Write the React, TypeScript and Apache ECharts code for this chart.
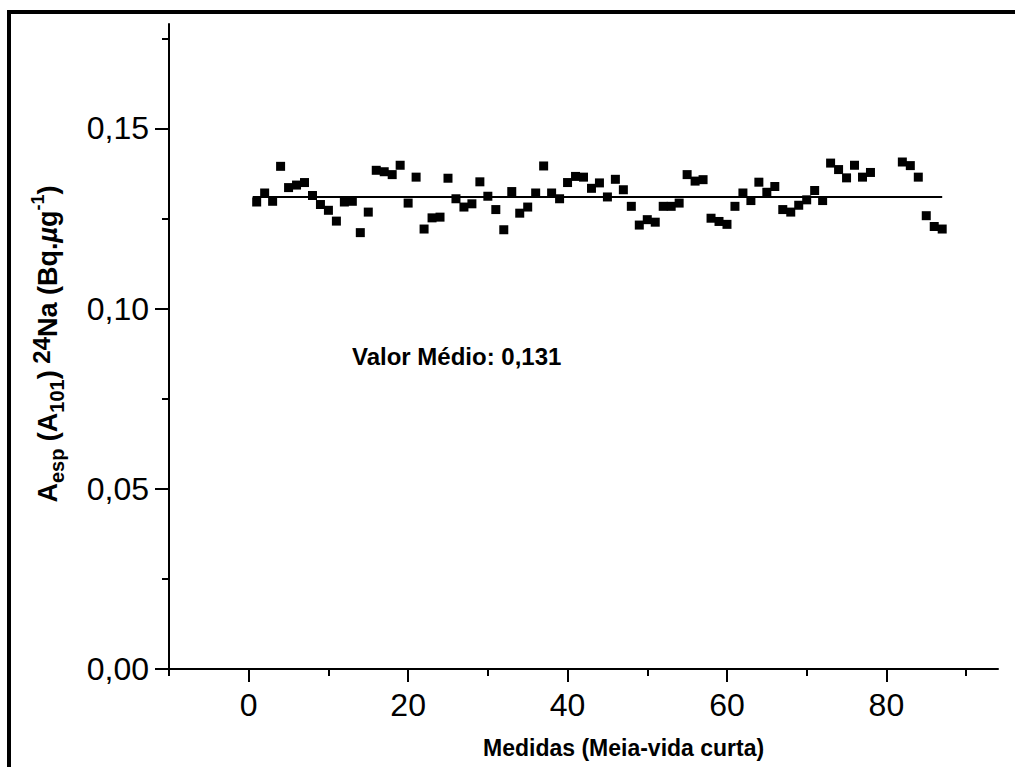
import React, { useEffect, useRef } from "react";
import * as echarts from "echarts";

const FONT = '"Liberation Sans", Arial, sans-serif';

// Measurement index (x) and specific activity (y)
const measureIndex = [
  1, 2, 3, 4, 5, 6, 7, 8, 9, 10, 11, 12, 13, 14, 15, 16, 17, 18, 19, 20,
  21, 22, 23, 24, 25, 26, 27, 28, 29, 30, 31, 32, 33, 34, 35, 36, 37, 38, 39, 40,
  41, 42, 43, 44, 45, 46, 47, 48, 49, 50, 51, 52, 53, 54, 55, 56, 57, 58, 59, 60,
  61, 62, 63, 64, 65, 66, 67, 68, 69, 70, 71, 72, 73, 74, 75, 76, 77, 78,
  82, 83, 84, 85, 86, 87,
];
const activity = [
  0.1296, 0.1321, 0.1298, 0.1395, 0.1336, 0.1343, 0.135, 0.1314, 0.1289, 0.1273,
  0.1243, 0.1296, 0.1298, 0.1211, 0.1268, 0.1384, 0.138, 0.1372, 0.1398, 0.1293,
  0.1365, 0.1221, 0.1252, 0.1254, 0.1362, 0.1305, 0.1282, 0.1291, 0.1352, 0.1312,
  0.1275, 0.1219, 0.1325, 0.1265, 0.1282, 0.1321, 0.1396, 0.1321, 0.1305, 0.135,
  0.1367, 0.1365, 0.1334, 0.1349, 0.131, 0.1359, 0.133, 0.1284, 0.1232, 0.1247,
  0.124, 0.1284, 0.1284, 0.1293, 0.1372, 0.1354, 0.1358, 0.1251, 0.1242, 0.1234,
  0.1284, 0.1321, 0.13, 0.1351, 0.1323, 0.1339, 0.1275, 0.1268, 0.1287, 0.1302,
  0.1328, 0.13, 0.1404, 0.1386, 0.1363, 0.1398, 0.1365, 0.1378,
  0.1407, 0.1397, 0.1365, 0.1258, 0.1228, 0.1221,
];
const meanValue = 0.131;
const meanLineX = [0.5, 87];

const xMajorTicks = [0, 20, 40, 60, 80];
const xMinorTicks = [-10, 10, 30, 50, 70, 90];
const yMajorTicks = [0, 0.05, 0.1, 0.15];
const yMinorTicks = [0.025, 0.075, 0.125, 0.175];

const xTitle = "Medidas (Meia-vida curta)";
const meanLabel = "Valor Médio: 0,131";

export default function App() {
  const ref = useRef<HTMLDivElement>(null);
  useEffect(() => {
    if (!ref.current) return;
    const chart = echarts.init(ref.current, null, { renderer: "svg" });
    const axisLine = { show: true, onZero: false, lineStyle: { color: "#000", width: 2 } };
    const hiddenLine = { show: false, onZero: false };
    const fmt = (v: number) => v.toFixed(2).replace(".", ",");
    chart.setOption({
      animation: false,
      backgroundColor: "#fff",
      grid: { left: 169, right: 17, top: 24, bottom: 98, containLabel: false },
      xAxis: [
        {
          type: "value",
          min: -10,
          max: 94,
          position: "bottom",
          axisLine,
          splitLine: { show: false },
          axisTick: { show: true, customValues: xMajorTicks, length: 13, lineStyle: { color: "#000", width: 2 } },
          axisLabel: {
            show: true,
            customValues: xMajorTicks,
            margin: 20,
            fontSize: 32,
            fontFamily: FONT,
            color: "#000",
          },
        },
        {
          type: "value",
          min: -10,
          max: 94,
          position: "bottom",
          offset: 0,
          axisLine: hiddenLine,
          splitLine: { show: false },
          axisTick: { show: true, customValues: xMinorTicks, length: 7, lineStyle: { color: "#000", width: 2 } },
          axisLabel: { show: false },
        },
      ],
      yAxis: [
        {
          type: "value",
          min: 0,
          max: 0.179,
          position: "left",
          axisLine,
          splitLine: { show: false },
          axisTick: { show: true, customValues: yMajorTicks, length: 14, lineStyle: { color: "#000", width: 2 } },
          axisLabel: {
            show: true,
            customValues: yMajorTicks,
            formatter: fmt,
            margin: 20,
            fontSize: 32,
            fontFamily: FONT,
            color: "#000",
          },
        },
        {
          type: "value",
          min: 0,
          max: 0.179,
          position: "left",
          offset: 0,
          axisLine: hiddenLine,
          splitLine: { show: false },
          axisTick: { show: true, customValues: yMinorTicks, length: 7, lineStyle: { color: "#000", width: 2 } },
          axisLabel: { show: false },
        },
      ],
      series: [
        {
          type: "line",
          xAxisIndex: 0,
          yAxisIndex: 0,
          data: meanLineX.map((x) => [x, meanValue]),
          symbol: "none",
          lineStyle: { color: "#000", width: 2 },
          z: 2,
        },
        {
          type: "scatter",
          xAxisIndex: 0,
          yAxisIndex: 0,
          data: measureIndex.map((x, i) => [x, activity[i]]),
          symbol: "rect",
          symbolSize: 9,
          itemStyle: { color: "#000", opacity: 1 },
          z: 3,
        },
      ],
      graphic: [
        { type: "rect", shape: { x: 7, y: 10, width: 1008, height: 4 }, style: { fill: "#000" } },
        { type: "rect", shape: { x: 7, y: 10, width: 4, height: 757 }, style: { fill: "#000" } },
        {
          type: "text",
          x: 352,
          y: 356,
          style: {
            text: meanLabel,
            font: `bold 24px ${FONT}`,
            fill: "#000",
            textAlign: "left",
            textVerticalAlign: "middle",
          },
        },
        {
          type: "text",
          x: 483,
          y: 748,
          style: {
            text: xTitle,
            font: `bold 23px ${FONT}`,
            fill: "#000",
            textAlign: "left",
            textVerticalAlign: "middle",
          },
        },
        {
          type: "text",
          x: 48,
          y: 344,
          rotation: Math.PI / 2,
          style: {
            text: "{m|A}{sub|esp}{m| (A}{sub|101}{m|)}{sup| 24}{m|Na (Bq.}{it|µ}{m|g}{sup2|-1}{m|)}",
            fill: "#000",
            textAlign: "center",
            textVerticalAlign: "middle",
            font: `bold 27px ${FONT}`,
            rich: {
              m: { fontSize: 27, fontWeight: "bold", fontFamily: FONT, lineHeight: 38, verticalAlign: "middle", fill: "#000" },
              sub: { fontSize: 20, fontWeight: "bold", fontFamily: FONT, lineHeight: 20, verticalAlign: "bottom", fill: "#000" },
              sup: { fontSize: 24, fontWeight: "bold", fontFamily: FONT, lineHeight: 24, verticalAlign: "top", fill: "#000" },
              sup2: { fontSize: 18, fontWeight: "bold", fontFamily: FONT, lineHeight: 18, verticalAlign: "top", fill: "#000" },
              it: { fontSize: 27, fontWeight: "bold", fontStyle: "italic", fontFamily: FONT, lineHeight: 38, verticalAlign: "middle", fill: "#000" },
            },
          },
        },
      ],
    });
    return () => chart.dispose();
  }, []);
  return (
    <div
      ref={ref}
      style={{ position: "absolute", left: 0, top: 0, width: 1015, height: 767, background: "#fff" }}
    />
  );
}
